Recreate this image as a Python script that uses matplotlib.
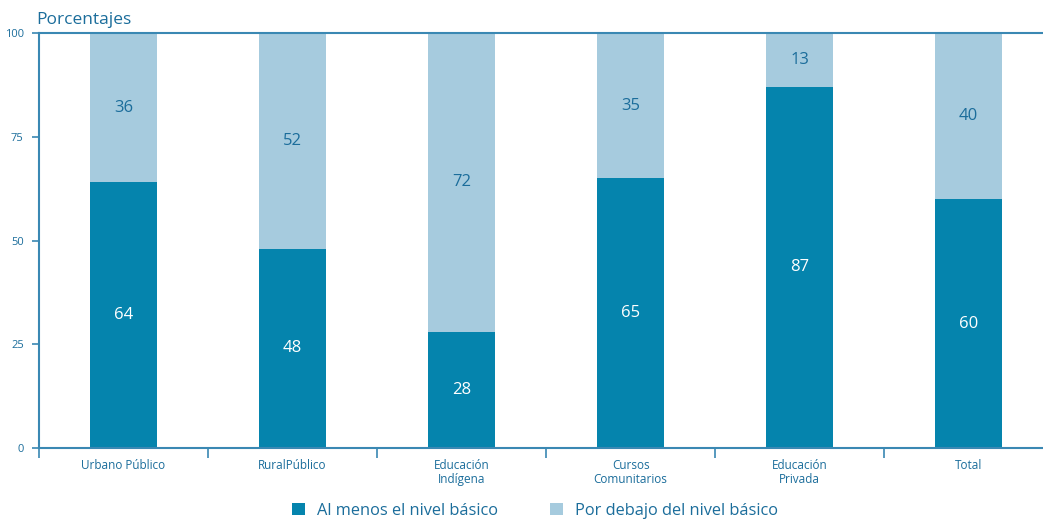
import matplotlib.pyplot as plt
import numpy as np

plt.rcParams['font.family'] = ['Open Sans', 'DejaVu Sans']

categorias = ['Urbano Público', 'RuralPúblico', 'Educación\nIndígena',
              'Cursos\nComunitarios', 'Educación\nPrivada', 'Total']
al_menos = [64, 48, 28, 65, 87, 60]
por_debajo = [36, 52, 72, 35, 13, 40]

oscuro = '#0584ad'
claro = '#a6cbde'
texto = '#1b6d9b'
linea = '#3a88b3'

fig = plt.figure(figsize=(10.43, 5.24), dpi=100)
ax = fig.add_axes([0.0374, 0.145, 0.9626, 0.792])

x = np.arange(len(categorias))
b1 = ax.bar(x, al_menos, width=0.4, color=oscuro, label='Al menos el nivel básico')
b2 = ax.bar(x, por_debajo, width=0.4, bottom=al_menos, color=claro,
            label='Por debajo del nivel básico')

for i in range(len(x)):
    ax.text(x[i], al_menos[i] / 2, str(al_menos[i]), ha='center', va='center',
            color='white', fontsize=12)
    ax.text(x[i], al_menos[i] + por_debajo[i] / 2, str(por_debajo[i]),
            ha='center', va='center', color=texto, fontsize=12)

ax.set_xlim(-0.5, 5.44)
ax.set_ylim(0, 100)
ax.set_yticks([0, 25, 50, 75, 100])
ax.set_yticklabels(['0', '25', '50', '75', '100'], fontsize=8, color=texto)
ax.tick_params(axis='y', length=5, color=linea, width=1.2, pad=6)

ax.set_xticks(np.arange(-0.5, 5.5, 1))
ax.set_xticks(x, minor=True)
ax.set_xticklabels([])
ax.set_xticklabels(categorias, minor=True, fontsize=8.5, color=texto, linespacing=1.1)
ax.tick_params(axis='x', which='major', length=7, color=linea, width=1.2)
ax.tick_params(axis='x', which='minor', length=0, pad=8)

ax.spines['right'].set_visible(False)
for s in ['left', 'bottom', 'top']:
    ax.spines[s].set_color(linea)
    ax.spines[s].set_linewidth(1.5)

fig.text(0.035, 0.962, 'Porcentajes', fontsize=12.5, color=texto, ha='left', va='center')

fig.legend(handles=[b1, b2], loc='center', bbox_to_anchor=(0.513, 0.025),
           ncol=2, frameon=False, fontsize=11.8, labelcolor=texto,
           handlelength=0.8, handleheight=0.8, columnspacing=3.2, handletextpad=0.7)

fig.savefig('out.png', dpi=100)
